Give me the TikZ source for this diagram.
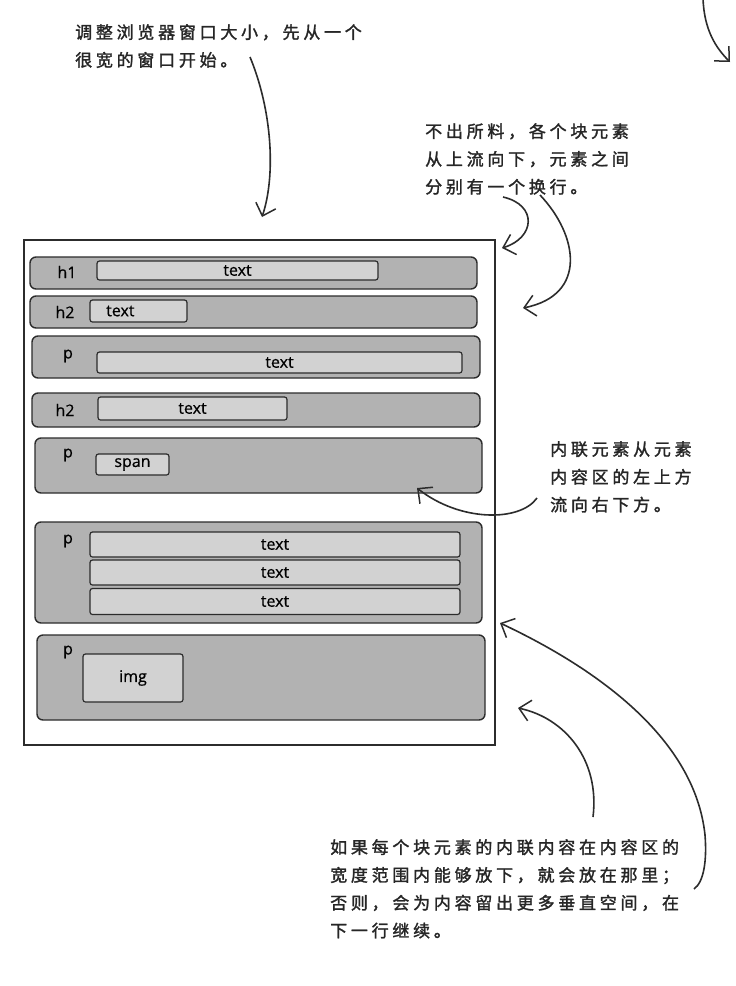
\documentclass[tikz,border=0pt]{standalone}
\usepackage{fontspec}
\setmainfont{Open Sans}
\newfontfamily\lblfont[FakeBold=0.6]{Open Sans}
\newfontfamily\cjk[LetterSpace=22,FakeBold=1.6]{Noto Sans CJK SC}
\usetikzlibrary{arrows.meta}
\definecolor{barfill}{HTML}{B2B2B2}
\definecolor{boxfill}{HTML}{D2D2D2}
\definecolor{ink}{HTML}{2C2C2C}
\definecolor{note}{HTML}{262626}
\tikzset{
  bar/.style={draw=ink, fill=barfill, line width=1.4pt, rounded corners=6pt, inner sep=0pt},
  ibox/.style={draw=ink, fill=boxfill, line width=1.2pt, rounded corners=2.5pt, inner sep=0pt, font=\lblfont\fontsize{16}{18}\selectfont},
  lbl/.style={inner sep=0pt, font=\lblfont\fontsize{16}{18}\selectfont, text=black},
  note/.style={inner sep=0pt, align=left, text=note, font=\cjk\fontsize{17}{27.8}\selectfont},
  curvy/.style={draw=ink, line width=1.6pt, -{Straight Barb[length=11pt,width=21pt,line width=1.5pt]}},
}
\begin{document}
\begin{tikzpicture}[x=1pt,y=-1pt]
\useasboundingbox (0,0) rectangle (736,986);
\fill[white] (0,0) rectangle (736,986);
% outer window
\node[draw=ink, fill=white, line width=1.4pt, inner sep=0pt, minimum width=471pt, minimum height=505pt] (win) at (259.5,492.5) {};
% bars
\node[bar, minimum width=447pt, minimum height=32pt] (b1) at (253.5,273) {};
\node[bar, minimum width=447pt, minimum height=32pt] (b2) at (253.5,312) {};
\node[bar, minimum width=448pt, minimum height=42pt] (b3) at (256,357) {};
\node[bar, minimum width=448pt, minimum height=34pt] (b4) at (256,410) {};
\node[bar, minimum width=447pt, minimum height=55pt] (b5) at (258.5,465.5) {};
\node[bar, minimum width=447pt, minimum height=101pt] (b6) at (258.5,572.5) {};
\node[bar, minimum width=448pt, minimum height=85pt] (b7) at (261,677.5) {};
% labels
\node[lbl] (l1) at (67,272) {h1};
\node[lbl] (l2) at (65,312) {h2};
\node[lbl] (l3) at (68,356) {p};
\node[lbl] (l4) at (65,410) {h2};
\node[lbl] (l5) at (68,455) {p};
\node[lbl] (l6) at (68,541) {p};
\node[lbl] (l7) at (68,652) {p};
% inner boxes
\node[ibox, minimum width=281pt, minimum height=19pt] (i1) at (237.5,270.5) {text};
\node[ibox, minimum width=97pt, minimum height=22pt] (i2) at (138.5,311) {};
\node[lbl, anchor=west] (t2) at (106,311) {text};
\node[ibox, minimum width=365pt, minimum height=21pt] (i3) at (279.5,362.5) {text};
\node[ibox, minimum width=189pt, minimum height=23pt] (i4) at (192.5,408.5) {text};
\node[ibox, minimum width=73pt, minimum height=21pt] (i5) at (132.5,464.5) {span};
\node[ibox, minimum width=370pt, minimum height=25pt] (i6a) at (275,544.5) {text};
\node[ibox, minimum width=370pt, minimum height=25pt] (i6b) at (275,572.5) {text};
\node[ibox, minimum width=370pt, minimum height=26pt] (i6c) at (275,601.5) {text};
\node[ibox, minimum width=100pt, minimum height=48pt] (i7) at (133,678) {img};
% notes
\node[note, anchor=north west] (n1) at (75,24) {调整浏览器窗口大小，先从一个\\很宽的窗口开始。};
\node[note, anchor=north west] (n2) at (425,123) {不出所料，各个块元素\\从上流向下，元素之间\\分别有一个换行。};
\node[note, anchor=north west] (n3) at (550,441) {内联元素从元素\\内容区的左上方\\流向右下方。};
\node[note, anchor=north west] (n4) at (330,839) {如果每个块元素的内联内容在内容区的\\宽度范围内能够放下，就会放在那里；\\否则，会为内容留出更多垂直空间，在\\下一行继续。};
% arrow anchor points
\coordinate (a1s) at (250,57);
\coordinate (a1e) at (262,217);
\coordinate (aAs) at (503,197);
\coordinate (aAe) at (502,248);
\coordinate (aBs) at (540,195);
\coordinate (aBe) at (523,308);
\coordinate (aIs) at (537,498);
\coordinate (aIe) at (417,488);
\coordinate (aCs) at (593,817);
\coordinate (aCe) at (518,708);
\coordinate (aDs) at (694,889);
\coordinate (aDm) at (705,835);
\coordinate (aDe) at (500,623);
\coordinate (aTs) at (703,-2);
\coordinate (aTe) at (730,62);
% arrows
\draw[curvy] (a1s) .. controls (272,110) and (276,175) .. (a1e);
\draw[curvy] (aAs) .. controls (538,205) and (535,238) .. (aAe);
\draw[curvy] (aBs) .. controls (578,235) and (588,295) .. (aBe);
\draw[curvy] (aIs) .. controls (520,522) and (460,522) .. (aIe);
\draw[curvy] (aCs) .. controls (600,760) and (565,718) .. (aCe);
\draw[draw=ink, line width=1.6pt] (aDs) .. controls (704,882) and (707,860) .. (aDm);
\draw[curvy] (aDm) .. controls (695,740) and (600,670) .. (aDe);
\draw[curvy] (aTs) .. controls (704,30) and (716,48) .. (aTe);
\end{tikzpicture}
\end{document}
